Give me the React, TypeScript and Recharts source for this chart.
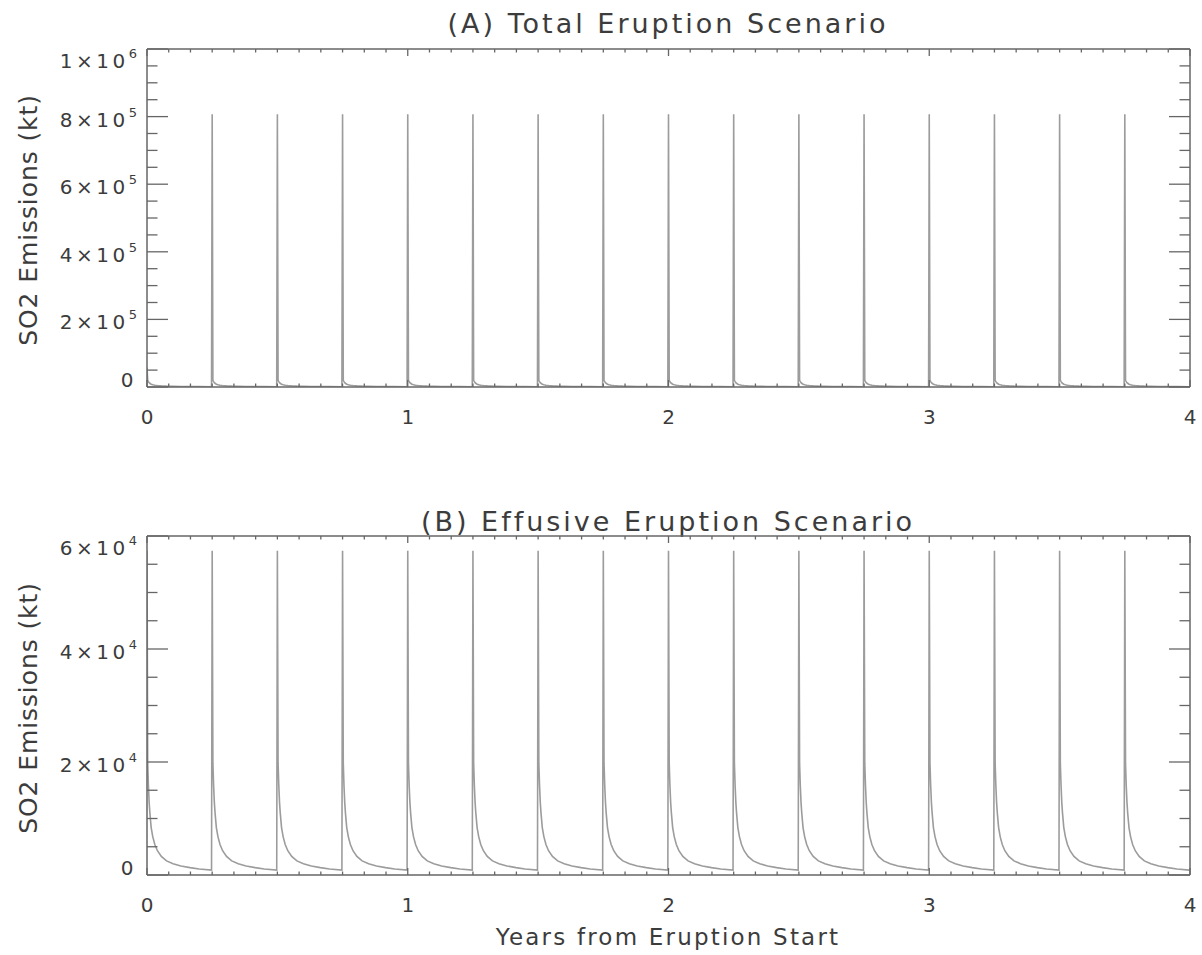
import React from 'react';
import { LineChart, Line, XAxis, YAxis, Customized } from 'recharts';

// ---- data ----
const eruptionStartYears = [0, 0.25, 0.5, 0.75, 1, 1.25, 1.5, 1.75, 2, 2.25, 2.5, 2.75, 3, 3.25, 3.5, 3.75];
const explosiveEventYears = [0.25, 0.5, 0.75, 1, 1.25, 1.5, 1.75, 2, 2.25, 2.5, 2.75, 3, 3.25, 3.5, 3.75];
const decayOffsetYears = [0, 0.0027, 0.0055, 0.0082, 0.011, 0.016, 0.022, 0.03, 0.04, 0.055, 0.075, 0.1, 0.13, 0.165, 0.2, 0.2475];
const effusiveDecayKt = [57400, 19800, 15800, 12900, 11000, 8400, 6800, 5400, 4300, 3300, 2500, 2000, 1600, 1300, 1050, 870];
const explosivePeakKt = 807000;

const xLabelTicks = [0, 1, 2, 3, 4];
const monthsPerYear = 12;
const xTicks = Array.from({ length: 4 * monthsPerYear + 1 }, (_, i) => i / monthsPerYear);

const totalYTicks = [0, 50000, 100000, 150000, 200000, 250000, 300000, 350000, 400000, 450000, 500000,
  550000, 600000, 650000, 700000, 750000, 800000, 850000, 900000, 950000, 1000000];
const totalYLabelTicks = [0, 200000, 400000, 600000, 800000, 1000000];
const effusiveYTicks = [0, 5000, 10000, 15000, 20000, 25000, 30000, 35000, 40000, 45000, 50000, 55000, 60000];
const effusiveYLabelTicks = [0, 20000, 40000, 60000];

const rows = eruptionStartYears.flatMap((start) =>
  decayOffsetYears.map((off, i) => ({
    year: +(start + off).toFixed(5),
    effusive: effusiveDecayKt[i],
    total: i === 0 && explosiveEventYears.includes(start) ? explosivePeakKt : effusiveDecayKt[i],
  }))
);

// ---- styling ----
const FONT = '"DejaVu Sans", sans-serif';
const AXIS = '#666';
const TEXT = '#3c3c3c';
const LINE = '#9c9c9c';

const isInt = (v: number) => Math.abs(v - Math.round(v)) < 1e-6;

function yLabel(v: number) {
  if (v === 0) return { mant: '0', exp: '' };
  const exp = Math.floor(Math.log10(v) + 1e-9);
  const mant = Math.round(v / Math.pow(10, exp));
  return { mant: `${mant}×10`, exp: String(exp) };
}

function makeLeftTick(labels: number[], yMax: number) {
  return (props: any) => {
    const { x, y, payload } = props;
    const v = payload.value;
    const major = labels.includes(v);
    const len = major ? 21 : 10.5;
    let label = null;
    if (major) {
      const { mant, exp } = yLabel(v);
      const dy = v === 0 ? 0 : v === yMax ? 19 : 10;
      label = (
        <text x={x - 10} y={y + dy} textAnchor="end" fontFamily={FONT} fontSize={20} fill={TEXT} letterSpacing={3.5}>
          <tspan>{mant}</tspan>
          {exp && <tspan dy={-10} fontSize={13} letterSpacing={0}>{exp}</tspan>}
        </text>
      );
    }
    return (
      <g>
        <line x1={x} x2={x + len} y1={y} y2={y} stroke={AXIS} strokeWidth={1.3} />
        {label}
      </g>
    );
  };
}

function makeRightTick(labels: number[]) {
  return (props: any) => {
    const { x, y, payload } = props;
    const len = labels.includes(payload.value) ? 21 : 10.5;
    return <line x1={x} x2={x - len} y1={y} y2={y} stroke={AXIS} strokeWidth={1.3} />;
  };
}

const bottomTick = (props: any) => {
  const { x, y, payload } = props;
  const v = payload.value;
  const major = isInt(v);
  const len = major ? 7 : 3.5;
  return (
    <g>
      <line x1={x} x2={x} y1={y} y2={y - len} stroke={AXIS} strokeWidth={1.3} />
      {major && xLabelTicks.includes(Math.round(v)) && (
        <text x={x} y={y + 37} textAnchor="middle" fontFamily={FONT} fontSize={20} fill={TEXT}>
          {Math.round(v)}
        </text>
      )}
    </g>
  );
};

const topTick = (props: any) => {
  const { x, y, payload } = props;
  const len = isInt(payload.value) ? 7 : 3.5;
  return <line x1={x} x2={x} y1={y} y2={y + len} stroke={AXIS} strokeWidth={1.3} />;
};

interface PanelProps {
  dataKey: string;
  yMax: number;
  yTicks: number[];
  yLabels: number[];
  title: string;
  titleY: number;
  yLabelCenter: number;
  height: number;
  margin: { top: number; right: number; bottom: number; left: number };
  xLabelY?: number;
}

function Panel(p: PanelProps) {
  const axisLine = { stroke: AXIS, strokeWidth: 1.5 };
  return (
    <LineChart width={1202} height={p.height} data={rows} margin={p.margin}>
      <XAxis xAxisId="b" dataKey="year" type="number" domain={[0, 4]} ticks={xTicks} interval={0}
        tickSize={0} tickMargin={0} height={1} axisLine={axisLine} tickLine={false} tick={bottomTick} allowDataOverflow />
      <XAxis xAxisId="t" orientation="top" dataKey="year" type="number" domain={[0, 4]} ticks={xTicks} interval={0}
        tickSize={0} tickMargin={0} height={1} axisLine={axisLine} tickLine={false} tick={topTick} allowDataOverflow />
      <YAxis yAxisId="l" width={147} type="number" domain={[0, p.yMax]} ticks={p.yTicks} interval={0}
        tickSize={0} tickMargin={0} axisLine={axisLine} tickLine={false} tick={makeLeftTick(p.yLabels, p.yMax)} allowDataOverflow />
      <YAxis yAxisId="r" orientation="right" width={1} type="number" domain={[0, p.yMax]} ticks={p.yTicks} interval={0}
        tickSize={0} tickMargin={0} axisLine={axisLine} tickLine={false} tick={makeRightTick(p.yLabels)} allowDataOverflow />
      <Line xAxisId="b" yAxisId="l" dataKey={p.dataKey} type="linear" stroke={LINE} strokeWidth={1.6}
        dot={false} activeDot={false} isAnimationActive={false} />
      <Customized
        component={() => (
          <g>
            <text x={668} y={p.titleY} textAnchor="middle" fontFamily={FONT} fontSize={27} fill={TEXT} letterSpacing={3}>
              {p.title}
            </text>
            <text transform={`translate(37,${p.yLabelCenter}) rotate(-90)`} textAnchor="middle" fontFamily={FONT}
              fontSize={25} fill={TEXT} letterSpacing={0.9}>
              SO2 Emissions (kt)
            </text>
            {p.xLabelY !== undefined && (
              <text x={668} y={p.xLabelY} textAnchor="middle" fontFamily={FONT} fontSize={23} fill={TEXT} letterSpacing={2.2}>
                Years from Eruption Start
              </text>
            )}
          </g>
        )}
      />
    </LineChart>
  );
}

export default function App() {
  return (
    <div style={{ position: 'absolute', left: 0, top: 0, width: 1202, height: 955, background: '#fff' }}>
      <div style={{ position: 'absolute', left: 0, top: 0 }}>
        <Panel dataKey="total" yMax={1000000} yTicks={totalYTicks} yLabels={totalYLabelTicks}
          title="(A) Total Eruption Scenario" titleY={33} yLabelCenter={220} height={480}
          margin={{ top: 48, right: 11, bottom: 92, left: 0 }} />
      </div>
      <div style={{ position: 'absolute', left: 0, top: 480 }}>
        <Panel dataKey="effusive" yMax={60000} yTicks={effusiveYTicks} yLabels={effusiveYLabelTicks}
          title="(B) Effusive Eruption Scenario" titleY={51} yLabelCenter={228} height={475}
          margin={{ top: 55, right: 11, bottom: 79, left: 0 }} xLabelY={465} />
      </div>
    </div>
  );
}
